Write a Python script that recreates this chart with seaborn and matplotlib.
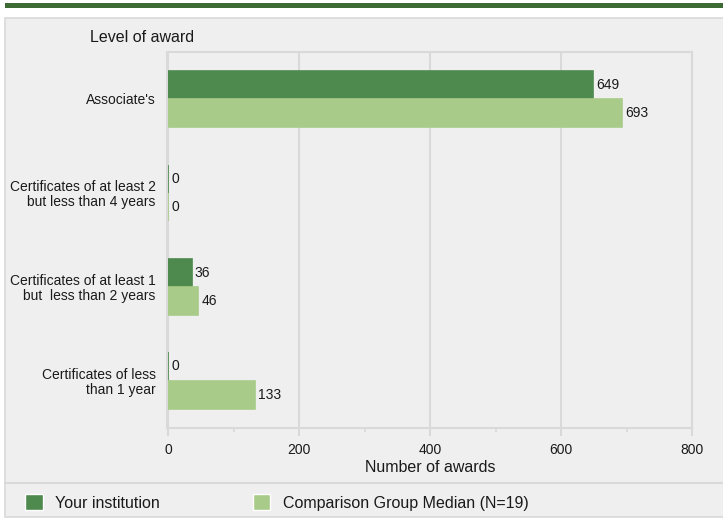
"""
Awards by level: your institution vs comparison group median, horizontal bars.
"""

import matplotlib

matplotlib.use("Agg")
import matplotlib.pyplot as plt
import pandas as pd
import seaborn as sns
from matplotlib.lines import Line2D
from matplotlib.patches import Rectangle
from matplotlib.ticker import MultipleLocator

levels = [
    "Associate's",
    "Certificates of at least 2\nbut less than 4 years",
    "Certificates of at least 1\nbut  less than 2 years",
    "Certificates of less\nthan 1 year",
]
series = ["Your institution", "Comparison Group Median (N=19)"]
institution = [649, 0, 36, 0]
comparison = [693, 0, 46, 133]

DARK = "#4e8a4e"
LIGHT = "#a9cb89"
PANEL = "#efefef"
LINE = "#d9d9d9"
TEXT = "#1a1a1a"

W, H = 723, 518

df = pd.DataFrame(
    {
        "level": levels * 2,
        "awards": institution + comparison,
        "series": [series[0]] * len(levels) + [series[1]] * len(levels),
    }
)

sns.set_style("white")
plt.rcParams["font.family"] = ["Liberation Sans", "DejaVu Sans"]

fig = plt.figure(figsize=(W / 100, H / 100), dpi=100, facecolor="white")

# page furniture: dark band on top, light panel with a separator above the legend
fig.patches.append(
    Rectangle((5 / W, 1 - 8 / H), 1, 5 / H, transform=fig.transFigure,
              facecolor="#3e6b35", edgecolor="none", zorder=-10)
)
fig.patches.append(
    Rectangle((5 / W, 1 - 517 / H), 1, (517 - 18) / H, transform=fig.transFigure,
              facecolor=PANEL, edgecolor=LINE, linewidth=1.2, zorder=-10)
)
fig.lines.append(
    Line2D([5 / W, 1], [1 - 482.5 / H] * 2, transform=fig.transFigure,
           color=LINE, linewidth=1.5, zorder=-5)
)

ax = fig.add_axes([168 / W, 1 - 427.5 / H, (692 - 168) / W, (427.5 - 52) / H])
ax.set_facecolor(PANEL)

sns.barplot(
    data=df, x="awards", y="level", hue="series", orient="h",
    palette=[DARK, LIGHT], saturation=1, width=0.6, ax=ax,
)
# zero-valued bars still show as a thin strip next to the axis, as in the original
for container, color in zip(ax.containers, [DARK, LIGHT]):
    for bar in container:
        bar.set_edgecolor(color)
        bar.set_linewidth(1.2)
        bar.set_zorder(3)
    ax.bar_label(container, padding=2.2, fontsize=10, color=TEXT)

ax.set_xlim(0, 800)
ax.xaxis.set_major_locator(MultipleLocator(200))
ax.xaxis.set_minor_locator(MultipleLocator(100))
ax.set_axisbelow(True)
ax.grid(axis="x", color=LINE, linewidth=1.5)
for spine in ax.spines.values():
    spine.set_visible(True)
    spine.set_color(LINE)
    spine.set_linewidth(1.5)
ax.spines["left"].set_position(("outward", 1))

ax.tick_params(axis="x", which="both", bottom=True)
ax.tick_params(axis="x", which="major", length=5.8, width=1.5, color=LINE,
               labelsize=10, labelcolor=TEXT, pad=5)
ax.tick_params(axis="x", which="minor", length=3, width=1.2, color=LINE)
ax.tick_params(axis="y", length=0, labelsize=10, labelcolor=TEXT, pad=8)
for lbl in ax.get_yticklabels():
    lbl.set_linespacing(1.05)

ax.set_ylabel("")
ax.set_xlabel("Number of awards", fontsize=11.5, color=TEXT)
ax.xaxis.label.set_va("center")
ax.xaxis.set_label_coords(0.5, -(467 - 427.5) / (427.5 - 52))

fig.text(90 / W, 1 - 37 / H, "Level of award", fontsize=11.5, color=TEXT,
         ha="left", va="center")

sns.move_legend(
    ax, "center left", bbox_to_anchor=(25 / W, 1 - 502.5 / H),
    bbox_transform=fig.transFigure, ncol=2, frameon=False, title=None,
    fontsize=11.5, labelcolor=TEXT, handlelength=1.1, handleheight=1.1,
    handletextpad=0.8, columnspacing=5.8, borderpad=0, borderaxespad=0,
)

fig.savefig("out.png", dpi=100, facecolor="white")
